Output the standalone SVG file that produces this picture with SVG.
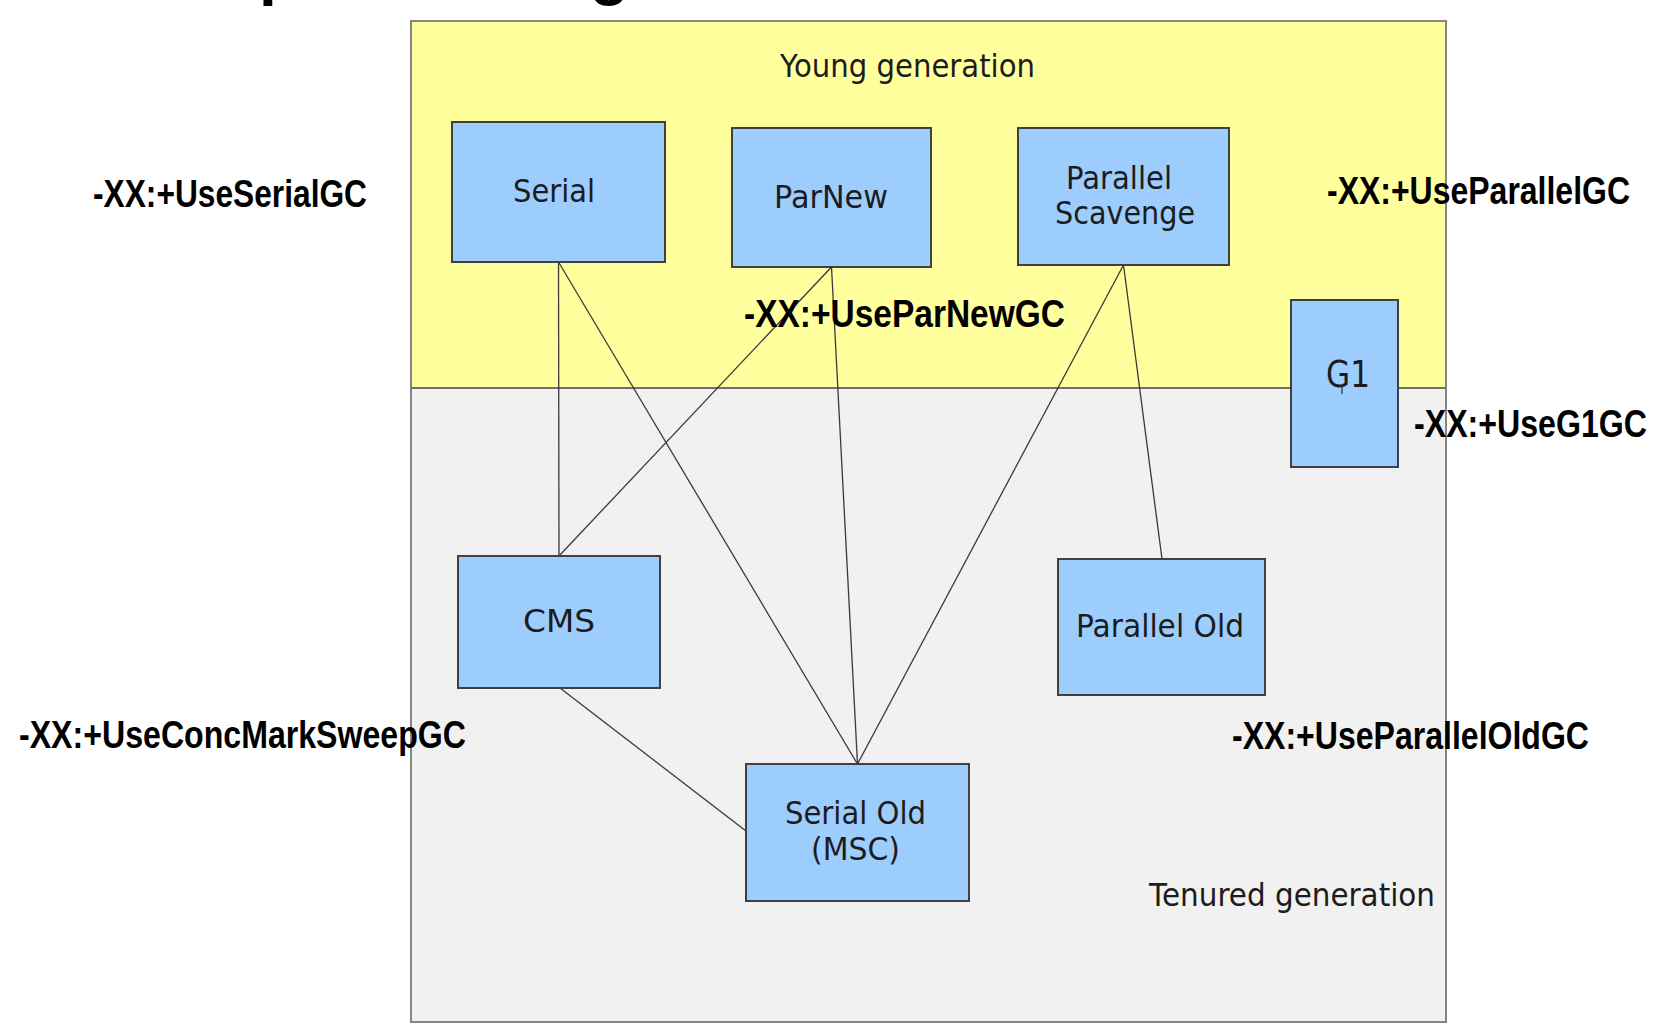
<svg xmlns="http://www.w3.org/2000/svg" width="1666" height="1034" viewBox="0 0 1666 1034">
<style>
.bg{fill:#ffffff}
.young{fill:#ffff9e;stroke:none}
.old{fill:#f1f1f1;stroke:none}
.frame{fill:none;stroke:#858585;stroke-width:2}
.div{stroke:#6e6e6e;stroke-width:2}
.box{fill:#9ccdfd;stroke:#404040;stroke-width:2}
.nt{font-family:"DejaVu Sans","Liberation Sans",sans-serif;font-size:32px;fill:#1c1c1c}
.gt{font-family:"DejaVu Sans","Liberation Sans",sans-serif;font-size:32px;fill:#1c1c1c}
.flag{font-family:"Liberation Sans",Arial,sans-serif;font-weight:bold;font-size:38px;fill:#000}
.title{font-family:"Liberation Sans",Arial,sans-serif;font-weight:bold;font-size:64px;fill:#000}
.ln{fill:none;stroke:#3a3a3a;stroke-width:1.3}
</style>
<rect class="bg" x="0" y="0" width="1666" height="1034"/>
<g id="title-fragment">
<text class="title" x="259" y="-7">p</text>
<text class="title" x="590" y="-7">g</text>
</g>
<g id="young-generation">
<rect class="young" x="411" y="21" width="1035" height="367"/>
<text class="gt" x="780" y="77" textLength="255" lengthAdjust="spacingAndGlyphs">Young generation</text>
</g>
<g id="tenured-generation">
<rect class="old" x="411" y="388" width="1035" height="634"/>
<text class="gt" x="1149" y="906" textLength="286" lengthAdjust="spacingAndGlyphs">Tenured generation</text>
</g>
<rect class="frame" x="411" y="21" width="1035" height="1001"/>
<line class="div" x1="411" y1="388" x2="1446" y2="388"/>
<g id="connectors">
<line class="ln" x1="558.5" y1="262" x2="559" y2="556"/>
<line class="ln" x1="558.5" y1="262" x2="857.5" y2="764"/>
<line class="ln" x1="831.5" y1="267" x2="559" y2="556"/>
<line class="ln" x1="831.5" y1="267" x2="857.5" y2="764"/>
<line class="ln" x1="1123.5" y1="265" x2="857.5" y2="764"/>
<line class="ln" x1="1123.5" y1="265" x2="1162" y2="559"/>
<line class="ln" x1="560" y1="688" x2="746" y2="831"/>
</g>
<g id="serial">
<rect class="box" x="452" y="122" width="213" height="140"/>
<text class="nt" x="513" y="202" textLength="82" lengthAdjust="spacingAndGlyphs">Serial</text>
</g>
<g id="parnew">
<rect class="box" x="732" y="128" width="199" height="139"/>
<text class="nt" x="774" y="208" textLength="114" lengthAdjust="spacingAndGlyphs">ParNew</text>
</g>
<g id="parallel-scavenge">
<rect class="box" x="1018" y="128" width="211" height="137"/>
<text class="nt" x="1066" y="189" textLength="106" lengthAdjust="spacingAndGlyphs">Parallel</text>
<text class="nt" x="1055" y="224" textLength="140" lengthAdjust="spacingAndGlyphs">Scavenge</text>
</g>
<g id="g1">
<rect class="box" x="1291" y="300" width="107" height="167"/>
<text class="nt" x="1326" y="387" style="font-size:37px" textLength="44" lengthAdjust="spacingAndGlyphs">G1</text>
<line class="ln" x1="1342" y1="386" x2="1342" y2="394"/>
</g>
<g id="cms">
<rect class="box" x="458" y="556" width="202" height="132"/>
<text class="nt" x="523" y="632" textLength="72" lengthAdjust="spacingAndGlyphs">CMS</text>
</g>
<g id="parallel-old">
<rect class="box" x="1058" y="559" width="207" height="136"/>
<text class="nt" x="1076" y="637" textLength="168" lengthAdjust="spacingAndGlyphs">Parallel Old</text>
</g>
<g id="serial-old">
<rect class="box" x="746" y="764" width="223" height="137"/>
<text class="nt" x="785" y="824" textLength="141" lengthAdjust="spacingAndGlyphs">Serial Old</text>
<text class="nt" x="811" y="860" textLength="89" lengthAdjust="spacingAndGlyphs">(MSC)</text>
</g>
<g id="flags">
<text class="flag" x="93" y="207" textLength="274" lengthAdjust="spacingAndGlyphs">-XX:+UseSerialGC</text>
<text class="flag" x="744" y="327" textLength="321" lengthAdjust="spacingAndGlyphs">-XX:+UseParNewGC</text>
<text class="flag" x="1327" y="204" textLength="303" lengthAdjust="spacingAndGlyphs">-XX:+UseParallelGC</text>
<text class="flag" x="1414" y="437" textLength="233" lengthAdjust="spacingAndGlyphs">-XX:+UseG1GC</text>
<text class="flag" x="19" y="748" textLength="447" lengthAdjust="spacingAndGlyphs">-XX:+UseConcMarkSweepGC</text>
<text class="flag" x="1232" y="749" textLength="357" lengthAdjust="spacingAndGlyphs">-XX:+UseParallelOldGC</text>
</g>
</svg>
